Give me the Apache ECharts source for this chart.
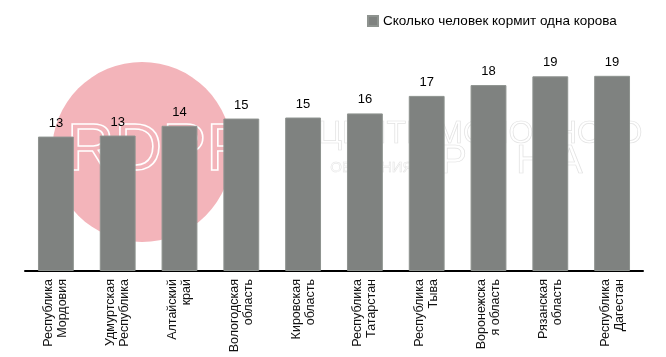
<!DOCTYPE html>
<html><head><meta charset="utf-8">
<script src="https://cdn.jsdelivr.net/npm/echarts@6/dist/echarts.min.js"></script>
<style>html,body{margin:0;padding:0;background:#fff}#c{width:666px;height:357px}</style>
</head><body><div id="c"></div>
<script>
const categories = ['Республика\nМордовия','Удмуртская\nРеспублика','Алтайский\nкрай','Вологодская\nобласть','Кировская\nобласть','Республика\nТатарстан','Республика\nТыва','Воронежска\nя область','Рязанская\nобласть','Республика\nДагестан'];
const values = [13.05, 13.15, 14.1, 14.8, 14.9, 15.3, 17.0, 18.05, 18.9, 18.95];
const valueLabels = ['13','13','14','15','15','16','17','18','19','19'];
const seriesName = 'Сколько человек кормит одна корова';

const chart = echarts.init(document.getElementById('c'), null, {renderer:'canvas'});
chart.setOption({
  animation:false,
  textStyle:{fontFamily:'Liberation Sans, Arial, sans-serif'},
  graphic:[
    {type:'circle', z:-10, shape:{cx:142, cy:152, r:90}, style:{fill:'#f3b4ba'}},
    {type:'text', z:-9, left:66, top:118, style:{text:'RDPRO', fill:'rgba(0,0,0,0)', stroke:'#ffffff', lineWidth:1.6, font:'66px Liberation Sans'}},
    {type:'text', z:-9, left:318, top:118, style:{text:'ЦЕНТР МОЛОЧНОГО', fill:'rgba(0,0,0,0)', stroke:'#e2e2e2', lineWidth:0.7, font:'32px Liberation Sans'}},
    {type:'text', z:-9, left:330, top:160, style:{text:'ОБУЧЕНИЯ', fill:'rgba(0,0,0,0)', stroke:'#e2e2e2', lineWidth:0.5, font:'15px Liberation Sans'}},
    {type:'text', z:-9, left:440, top:142, style:{text:'Р Е Н А', fill:'rgba(0,0,0,0)', stroke:'#e2e2e2', lineWidth:0.7, font:'40px Liberation Sans'}}
  ],
  legend:{left:362, top:9, itemWidth:10, itemHeight:10, itemGap:4, icon:'rect',
    textStyle:{fontSize:13.5, color:'#000', fontFamily:'Liberation Sans, Arial, sans-serif'}, data:[seriesName]},
  grid:{left:25, right:23, top:65, bottom:86},
  xAxis:{type:'category', data:categories,
    axisLine:{lineStyle:{color:'#000', width:2}}, axisTick:{show:false},
    axisLabel:{interval:0, rotate:90, fontSize:12.5, color:'#111', lineHeight:14, margin:8, fontFamily:'Liberation Sans, Arial, sans-serif'}},
  yAxis:{type:'value', min:0, max:20, show:false, splitLine:{show:false}},
  series:[{name:seriesName, type:'bar', data:values, barWidth:'58%',
    itemStyle:{color:'#7f8280', borderColor:'#8e938f', borderWidth:1},
    label:{show:true, position:'top', distance:7, fontSize:13, color:'#000',
      formatter:p=>valueLabels[p.dataIndex]}}]
});
</script></body></html>
